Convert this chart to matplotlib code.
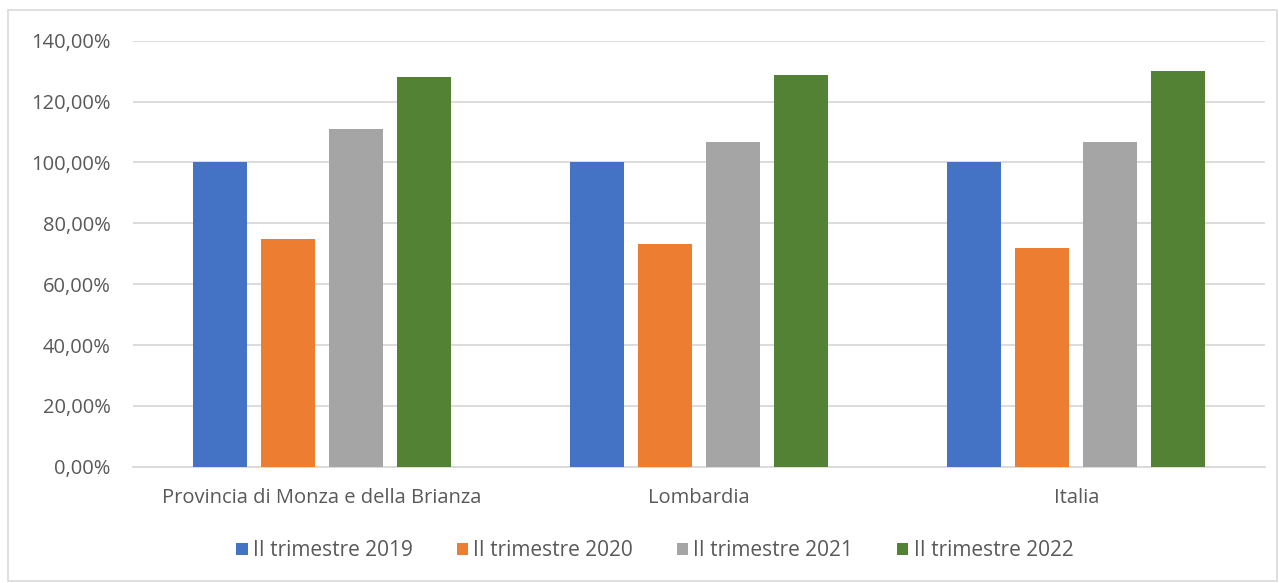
import matplotlib
matplotlib.use("Agg")
import matplotlib.pyplot as plt
from matplotlib.ticker import FuncFormatter
from matplotlib.patches import Rectangle
import numpy as np

categories = ["Provincia di Monza e della Brianza", "Lombardia", "Italia"]
series_names = ["II trimestre 2019", "II trimestre 2020", "II trimestre 2021", "II trimestre 2022"]
v2019 = [100.0, 100.0, 100.0]
v2020 = [75.0, 73.3, 72.0]
v2021 = [111.1, 106.7, 106.6]
v2022 = [128.2, 128.7, 130.2]
colors = ["#4472C4", "#ED7D31", "#A5A5A5", "#548235"]

plt.rcParams['font.family'] = ['Open Sans', 'DejaVu Sans']
txt = "#595959"

fig = plt.figure(figsize=(12.79, 5.83), dpi=100)
ax = fig.add_axes([0.104, 0.1995, 0.885, 0.7305])

x = np.arange(len(categories))
w = 0.143
step = 0.18
offs = [-1.5 * step, -0.5 * step, 0.5 * step, 1.5 * step]
for vals, name, c, o in zip([v2019, v2020, v2021, v2022], series_names, colors, offs):
    ax.bar(x + o, vals, width=w, color=c, label=name, zorder=3)

ax.set_xlim(-0.5, 2.5)
ax.set_ylim(0, 140)
ax.set_yticks(np.arange(0, 141, 20))
ax.yaxis.set_major_formatter(FuncFormatter(lambda v, p: f"{v:.2f}%".replace(".", ",")))
ax.set_xticks(x)
ax.set_xticklabels(categories)
ax.grid(axis='y', color="#D9D9D9", linewidth=1.3, zorder=0)
for s in ["top", "right", "left"]:
    ax.spines[s].set_visible(False)
ax.spines["bottom"].set_color("#D9D9D9")
ax.spines["bottom"].set_linewidth(1.3)
ax.tick_params(axis='both', length=0, colors=txt, labelsize=14.5)
ax.tick_params(axis='y', pad=16)
ax.tick_params(axis='x', pad=15)

leg = fig.legend(loc="center", bbox_to_anchor=(0.512, 0.055), ncol=4, frameon=False,
                 fontsize=15, handlelength=0.55, handleheight=0.55, handletextpad=0.25,
                 columnspacing=2.1, labelcolor=txt)

fig.patches.append(Rectangle((8 / 1279, 2 / 583), 1269 / 1279, 571 / 583,
                             transform=fig.transFigure, fill=False,
                             edgecolor="#D9D9D9", linewidth=1.2))

fig.savefig("out.png", dpi=100)
